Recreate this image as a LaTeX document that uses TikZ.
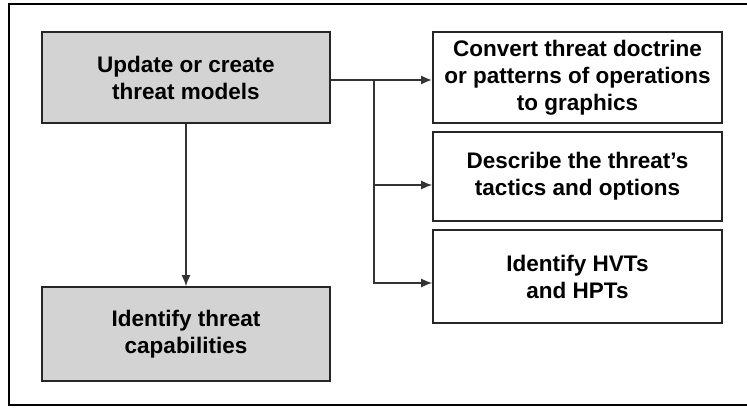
\documentclass[tikz,border=0pt]{standalone}
\usepackage{fontspec}
\setmainfont{Liberation Sans}
\usepackage{tikz}
\usetikzlibrary{arrows.meta}
\definecolor{boxgray}{HTML}{D3D3D3}
\definecolor{linegray}{HTML}{333333}
\tikzset{
  stepbox/.style={draw=black!85,line width=1.6pt,align=center,inner sep=0pt,
    font=\fontsize{22.5}{27}\selectfont\bfseries},
  graybox/.style={stepbox,fill=boxgray,minimum width=288pt},
  whitebox/.style={stepbox,fill=white,minimum width=289pt},
  link/.style={draw=linegray,line width=1.5pt,-{Latex[length=11pt,width=9pt]}}
}
\begin{document}
\begin{tikzpicture}[x=1pt,y=-1pt]
	 \useasboundingbox (0,0) rectangle (747,409);
	 \draw[line width=2.8pt] (760,4) -- (9,4) -- (9,405) -- (760,405);
	 \node[graybox,minimum height=91pt] (upd) at (186,77.5) {Update or create\\threat models};
	 \node[graybox,minimum height=94pt] (cap) at (186,334) {Identify threat\\capabilities};
	 \node[whitebox,minimum height=91pt] (conv) at (577.5,77.5) {Convert threat doctrine\\or patterns of operations\\to graphics};
	 \node[whitebox,minimum height=89pt] (desc) at (577.5,176.5) {Describe the threat’s\\tactics and options};
	 \node[whitebox,minimum height=93pt] (hvt) at (577.5,276.5) {Identify HVTs\\and HPTs};
	 \coordinate (br) at (374,80);
	 \draw[link,line width=2.6pt] ([yshift=-2.5pt]upd.east) -- ([yshift=-2.5pt]conv.west);
	 \draw[link] (br) |- ([yshift=-8.5pt]desc.west);
	 \draw[link] (br) |- ([yshift=-6.5pt]hvt.west);
	 \draw[link] (upd.south) -- (cap.north);
\end{tikzpicture}
\end{document}
